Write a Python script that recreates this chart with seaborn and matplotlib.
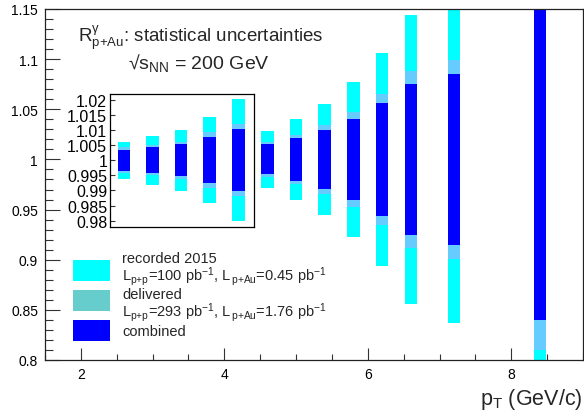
import numpy as np
import matplotlib
matplotlib.use("Agg")
import matplotlib.pyplot as plt
import seaborn as sns
from matplotlib.patches import Rectangle
from matplotlib.ticker import MultipleLocator, FuncFormatter

# ---------------- data ----------------
pt = np.array([2.6, 3.0, 3.4, 3.8, 4.2, 4.6, 5.0, 5.4, 5.8, 6.2, 6.6, 7.2, 8.4])
recorded = np.array([0.0061, 0.0081, 0.0101, 0.0142, 0.0201, 0.0285, 0.0405,
                     0.0553, 0.0776, 0.1066, 0.1443, 0.1630, 0.3000])
delivered = np.array([0.0043, 0.0050, 0.0061, 0.0092, 0.0120, 0.0176, 0.0245,
                      0.0344, 0.0470, 0.0653, 0.0886, 0.0996, 0.1900])
combined = np.array([0.0035, 0.0043, 0.0053, 0.0076, 0.0103, 0.0150, 0.0212,
                     0.0295, 0.0403, 0.0560, 0.0756, 0.0850, 0.1600])
main_yticks = [0.8, 0.85, 0.9, 0.95, 1.0, 1.05, 1.1, 1.15]
inset_yticks = [0.98, 0.985, 0.99, 0.995, 1.0, 1.005, 1.01, 1.015, 1.02]
xticks = [2, 4, 6, 8]
legend_lines = ["recorded 2015",
                "L$_{p{+}p}$=100 pb$^{-1}$, L$_{\\,p{+}Au}$=0.45 pb$^{-1}$",
                "delivered",
                "L$_{p{+}p}$=293 pb$^{-1}$, L$_{\\,p{+}Au}$=1.76 pb$^{-1}$",
                "combined"]

CYAN, LBLUE, BLUE, TEAL = "#00FFFF", "#66CCFF", "#0000FF", "#66CCCC"

sns.set_theme(style="ticks")
plt.rcParams["font.family"] = ["Liberation Sans", "DejaVu Sans"]
plt.rcParams["mathtext.fontset"] = "custom"
plt.rcParams["mathtext.rm"] = "Liberation Sans"
plt.rcParams["mathtext.it"] = "Liberation Sans"
plt.rcParams["mathtext.bf"] = "Liberation Sans:bold"

W, H = 584, 414
fig = plt.figure(figsize=(W / 100, H / 100), dpi=100)
fig.patch.set_facecolor("white")


def fx(x):
    return x / W


def fy(y):
    return 1 - y / H


ax = fig.add_axes([fx(45), fy(361), fx(583) - fx(45), fy(10) - fy(361)])
ax.set_facecolor("white")


def draw_bars(a):
    for half, col in [(recorded, CYAN), (delivered, LBLUE), (combined, BLUE)]:
        a.bar(pt, 2 * half, bottom=1 - half, width=0.175, color=col,
              linewidth=0, align="center")


draw_bars(ax)
ax.set_xlim(1.5, 9.0)
ax.set_ylim(0.8, 1.15)
ax.set_xticks(xticks)
ax.xaxis.set_minor_locator(MultipleLocator(0.5))
ax.set_yticks(main_yticks)
ax.yaxis.set_minor_locator(MultipleLocator(0.01))
ax.yaxis.set_major_formatter(FuncFormatter(lambda v, p: f"{v:.2f}".rstrip("0").rstrip(".")))
ax.tick_params(axis="both", which="both", direction="in", colors="#333333",
               labelcolor="black", labelsize=10, width=0.8)
ax.tick_params(axis="y", which="major", length=10.8, pad=5)
ax.tick_params(axis="y", which="minor", length=5.8)
ax.tick_params(axis="x", which="major", length=8.6, pad=5)
ax.tick_params(axis="x", which="minor", length=4.3)
for s in ax.spines.values():
    s.set_color("#222222")
    s.set_linewidth(0.9)
ax.set_xlabel("")
ax.set_ylabel("")

# inset
ax2 = fig.add_axes([fx(110), fy(228), fx(254) - fx(110), fy(95) - fy(228)])
ax2.set_facecolor("white")
draw_bars(ax2)
ax2.set_xlim(2.4056, 4.4196)
ax2.set_ylim(0.9779, 1.0219)
ax2.set_xticks([])
ax2.set_yticks(inset_yticks)
ax2.yaxis.set_major_formatter(FuncFormatter(lambda v, p: f"{v:.3f}".rstrip("0").rstrip(".")))
ax2.tick_params(axis="y", which="major", direction="in", length=3.6, width=0.8,
                colors="#333333", labelcolor="black", labelsize=11.5, pad=2)
ax2.yaxis.set_minor_locator(plt.NullLocator())
for s in ax2.spines.values():
    s.set_color("black")
    s.set_linewidth(0.9)

# texts
fig.text(fx(78), fy(41.5), r"R$^{\gamma}_{p{+}Au}$: statistical uncertainties",
         fontsize=13.5, va="baseline", ha="left")
fig.text(fx(128), fy(68.5), "\u221a$s_{NN}$ = 200 GeV",
         fontsize=14, va="baseline", ha="left")
fig.text(fx(583), fy(405), r"p$_{T}$ (GeV/c)", fontsize=15.5,
         va="baseline", ha="right")

# legend (manual)
box_tops = [260.7, 290.7, 320.7]
box_cols = [CYAN, TEAL, BLUE]
for top, col in zip(box_tops, box_cols):
    fig.add_artist(Rectangle((fx(73), fy(top + 21)), fx(110) - fx(73), 21 / H,
                             transform=fig.transFigure, facecolor=col,
                             edgecolor="none"))
baselines = [263.0, 280.7, 299.2, 316.8, 335.5]
for txt, base in zip(legend_lines, baselines):
    fig.text(fx(122), fy(base), txt, fontsize=10.5, va="baseline", ha="left")

fig.savefig("out.png", dpi=100, facecolor="white")
